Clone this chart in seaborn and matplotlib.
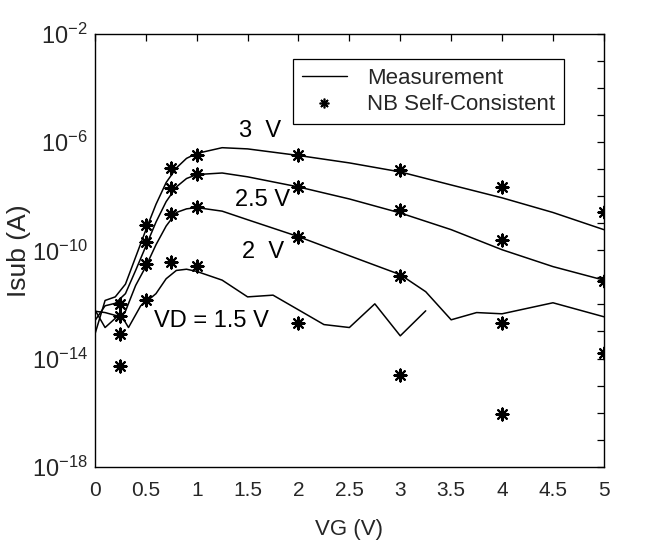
import numpy as np
import pandas as pd
import matplotlib
matplotlib.use("Agg")
import matplotlib.pyplot as plt
from matplotlib.lines import Line2D
from matplotlib.ticker import FixedLocator, LogFormatterMathtext, NullFormatter
import seaborn as sns

# ---------------- data ----------------
# Measurement curves (Isub in A vs VG in V)
vg_3v = [0, 0.1, 0.2, 0.3, 0.4, 0.5, 0.6, 0.7, 0.8, 0.9, 1.0, 1.25, 1.5, 2.0, 2.5, 3.0, 3.5, 4.0, 4.5, 5.0]
isub_3v = [7.9e-14, 1.4e-12, 1.9e-12, 5.6e-12, 5.6e-11, 5.6e-10, 5.0e-9, 3.2e-8, 1.1e-7, 2.5e-7,
           3.8e-7, 6.2e-7, 5.6e-7, 3.2e-7, 1.7e-7, 7.9e-8, 2.6e-8, 8.7e-9, 2.5e-9, 5.8e-10]

vg_25v = [0, 0.1, 0.2, 0.3, 0.4, 0.5, 0.6, 0.7, 0.8, 0.9, 1.0, 1.25, 1.5, 2.0, 2.5, 3.0, 3.5, 4.0, 4.5, 5.0]
isub_25v = [2.5e-13, 8.9e-13, 1.1e-12, 2.5e-12, 1.8e-11, 1.4e-10, 1.1e-9, 6.3e-9, 2.2e-8, 4.5e-8,
            6.3e-8, 7.2e-8, 5.2e-8, 2.2e-8, 7.9e-9, 2.4e-9, 5.8e-10, 1.05e-10, 2.5e-11, 7.9e-12]

vg_2v = [0, 0.1, 0.25, 0.3, 0.4, 0.5, 0.6, 0.7, 0.8, 0.9, 1.0, 1.25, 1.5, 2.0, 2.5, 3.0, 3.25, 3.5,
         3.75, 4.0, 4.5, 5.0]
isub_2v = [5.6e-13, 5.0e-13, 3.5e-13, 5.6e-13, 5.0e-12, 2.5e-11, 1.6e-10, 7.9e-10, 2.5e-9, 3.4e-9,
           3.8e-9, 2.8e-9, 1.35e-9, 3.2e-10, 6.3e-11, 1.26e-11, 2.95e-12, 2.7e-13, 5.0e-13, 4.5e-13,
           1.15e-12, 3.5e-13]

vg_15v = [0, 0.1, 0.25, 0.33, 0.45, 0.52, 0.6, 0.7, 0.8, 0.9, 1.0, 1.25, 1.5, 1.75, 2.0, 2.25, 2.5,
          2.75, 3.0, 3.25]
isub_15v = [6.3e-13, 1.4e-13, 4.5e-13, 1.4e-13, 8.9e-13, 1.4e-12, 2.5e-12, 8.9e-12, 1.8e-11, 2.0e-11,
            1.66e-11, 7.9e-12, 1.9e-12, 2.2e-12, 6.3e-13, 1.8e-13, 1.4e-13, 1.05e-12, 6.9e-14, 5.8e-13]

# NB Self-Consistent simulation points
vg_sim = [0.25, 0.5, 0.75, 1.0, 2.0, 3.0, 4.0, 5.0]
sim_3v = [1.05e-12, 8.7e-10, 1.12e-7, 3.4e-7, 3.2e-7, 9.3e-8, 2.2e-8, 2.6e-9]
sim_25v = [3.8e-13, 2.0e-10, 2.0e-8, 6.8e-8, 2.2e-8, 3.2e-9, 2.5e-10, 7.4e-12]
sim_2v = [8.1e-14, 3.2e-11, 2.2e-9, 4.1e-9, 3.2e-10, 1.15e-11, 2.1e-13, 1.6e-14]
vg_sim_15 = [0.25, 0.5, 0.75, 1.0, 2.0, 3.0, 4.0]
sim_15v = [5.4e-15, 1.5e-12, 3.7e-11, 2.7e-11, 2.1e-13, 2.5e-15, 9.1e-17]

curve_labels = ["3  V", "2.5 V", "2  V", "VD = 1.5 V"]
x_ticks = [0, 0.5, 1, 1.5, 2, 2.5, 3, 3.5, 4, 4.5, 5]
x_tick_labels = ["0", "0.5", "1", "1.5", "2", "2.5", "3", "3.5", "4", "4.5", "5"]
y_major = [1e-18, 1e-14, 1e-10, 1e-6, 1e-2]

# ---------------- tidy frames ----------------
meas = pd.concat([
    pd.DataFrame({"VG": vg_3v, "Isub": isub_3v, "VD": "3"}),
    pd.DataFrame({"VG": vg_25v, "Isub": isub_25v, "VD": "2.5"}),
    pd.DataFrame({"VG": vg_2v, "Isub": isub_2v, "VD": "2"}),
    pd.DataFrame({"VG": vg_15v, "Isub": isub_15v, "VD": "1.5"}),
], ignore_index=True)

sim = pd.concat([
    pd.DataFrame({"VG": vg_sim, "Isub": sim_3v, "VD": "3"}),
    pd.DataFrame({"VG": vg_sim, "Isub": sim_25v, "VD": "2.5"}),
    pd.DataFrame({"VG": vg_sim, "Isub": sim_2v, "VD": "2"}),
    pd.DataFrame({"VG": vg_sim_15, "Isub": sim_15v, "VD": "1.5"}),
], ignore_index=True)

# ---------------- style ----------------
sns.set_theme(style="white")
plt.rcParams["font.family"] = ["Liberation Sans", "DejaVu Sans"]
plt.rcParams["mathtext.fontset"] = "custom"
plt.rcParams["mathtext.rm"] = "Liberation Sans"
plt.rcParams["mathtext.it"] = "Liberation Sans"
plt.rcParams["mathtext.default"] = "regular"

fig = plt.figure(figsize=(6.5, 5.55), dpi=100)
ax = fig.add_axes([0.146, 0.159, 0.783, 0.780])

sns.lineplot(data=meas, x="VG", y="Isub", units="VD", estimator=None, sort=False,
             color="black", linewidth=1.1, ax=ax, legend=False)

star = (8, 2, 0)
sns.scatterplot(data=sim, x="VG", y="Isub", marker=star, s=75, color="black",
                edgecolor="black", linewidth=1.5, ax=ax, legend=False, zorder=3)

ax.set_yscale("log")
ax.set_xlim(0, 5)
ax.set_ylim(1e-18, 1e-2)

ax.xaxis.set_major_locator(FixedLocator(x_ticks))
ax.set_xticklabels(x_tick_labels)
ax.yaxis.set_major_locator(FixedLocator(y_major))
ax.yaxis.set_major_formatter(LogFormatterMathtext())
ax.yaxis.set_minor_locator(FixedLocator([10.0 ** e for e in range(-18, -1)]))
ax.yaxis.set_minor_formatter(NullFormatter())

ax.tick_params(axis="both", which="both", direction="in", top=True, right=True,
               color="black", width=0.9)
ax.tick_params(axis="both", which="major", length=5)
ax.tick_params(axis="y", which="minor", length=5)
ax.tick_params(axis="x", labelsize=15, pad=10)
ax.tick_params(axis="y", labelsize=17, pad=5)

for sp in ax.spines.values():
    sp.set_color("black")
    sp.set_linewidth(1.0)

ax.set_xlabel("VG (V)", fontsize=16, labelpad=14)
ax.set_ylabel("Isub (A)", fontsize=19)
ax.yaxis.set_label_coords(-0.125, 0.5)

# curve labels
label_pos = [(1.62, 10 ** -5.58), (1.65, 10 ** -8.13), (1.65, 10 ** -10.06), (1.14, 10 ** -12.6)]
for txt, (x, y) in zip(curve_labels, label_pos):
    ax.text(x, y, txt, ha="center", va="center", fontsize=17, color="black")

handles = [Line2D([], [], color="black", linewidth=1.0),
           Line2D([], [], color="black", linestyle="none", marker=star, markersize=7,
                  markeredgewidth=1.2)]
leg = ax.legend(handles, ["Measurement", "NB Self-Consistent"], loc="upper right",
                bbox_to_anchor=(0.921, 0.942), fontsize=16, frameon=True, fancybox=False,
                framealpha=1, edgecolor="black", handlelength=2.0, handletextpad=0.9,
                borderpad=0.4, labelspacing=0.25, borderaxespad=0)
leg.get_frame().set_linewidth(0.9)

fig.savefig("out.png", dpi=100)
